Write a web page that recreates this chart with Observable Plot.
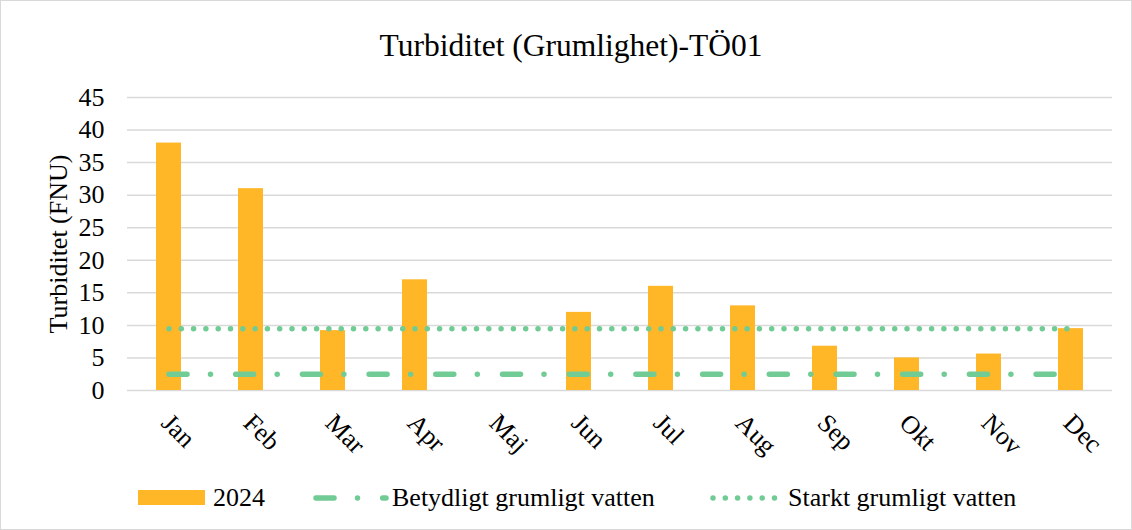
<!DOCTYPE html>
<html><head><meta charset="utf-8">
<script src="https://cdn.jsdelivr.net/npm/d3@7"></script>
<script src="https://cdn.jsdelivr.net/npm/@observablehq/plot@0.6"></script>
<style>
body{margin:0;background:#fff;}
#wrap{position:relative;width:1132px;height:530px;box-sizing:border-box;border:1px solid #d9d9d9;font-family:"Liberation Serif","Times New Roman",serif;color:#000;overflow:hidden;background:#fff}
#title{position:absolute;left:0;width:1140px;top:29px;text-align:center;font-size:31.5px;line-height:31px;white-space:nowrap}
#chart{position:absolute;left:0;top:80px}
#chart svg{overflow:visible}
.leg{position:absolute;top:480px;height:34px;font-size:26px;line-height:34px;white-space:nowrap}
.sw{position:absolute;top:480px}
</style></head>
<body>
<div id="wrap">
  <div id="title"></div>
  <div id="chart"></div>
  <div id="legend"></div>
</div>
<script>
const titleText = "Turbiditet (Grumlighet)-TÖ01";
const yLabel = "Turbiditet (FNU)";
const months = ["Jan","Feb","Mar","Apr","Maj","Jun","Jul","Aug","Sep","Okt","Nov","Dec"];
const values2024 = [38, 31, 9.2, 17, null, 12, 16, 13, 6.8, 5, 5.6, 9.5];
const betydligt = [2.5, 2.5, 2.5, 2.5, 2.5, 2.5, 2.5, 2.5, 2.5, 2.5, 2.5, 2.5];
const starkt = [9.5, 9.5, 9.5, 9.5, 9.5, 9.5, 9.5, 9.5, 9.5, 9.5, 9.5, 9.5];
const yTicks = [0, 5, 10, 15, 20, 25, 30, 35, 40, 45];
const seriesNames = ["2024", "Betydligt grumligt vatten", "Starkt grumligt vatten"];

const barColor = "#FFB627";
const lineColor = "#71CB95";
const dashDot = "18,23.5,0,25.2";
const dotted = "0,12.3";

const rows = months.map((m, i) => ({month: m, v: values2024[i], b: betydligt[i], s: starkt[i]}));

document.getElementById("title").textContent = titleText;

const plot = Plot.plot({
  width: 1130,
  height: 400,
  marginTop: 16,
  marginBottom: 91,
  marginLeft: 126,
  marginRight: 19,
  style: {fontFamily: "Liberation Serif, Times New Roman, serif", fontSize: "26px", color: "#000", background: "transparent", overflow: "visible"},
  x: {type: "band", domain: months, paddingInner: 0.695, paddingOuter: 0.3475, axis: null},
  y: {domain: [0, 45], axis: null},
  marks: [
    Plot.ruleY(yTicks, {stroke: "#d9d9d9", strokeWidth: 1.5}),
    Plot.barY(rows.filter(d => d.v != null), {x: "month", y: "v", fill: barColor}),
    Plot.lineY(rows, {x: "month", y: "b", stroke: lineColor, strokeWidth: 5.5, strokeDasharray: dashDot, strokeLinecap: "round"}),
    Plot.lineY(rows, {x: "month", y: "s", stroke: lineColor, strokeWidth: 5.5, strokeDasharray: dotted, strokeLinecap: "round"}),
    Plot.axisY({ticks: yTicks, tickSize: 0, tickPadding: 23, label: null, fontSize: 26}),
    Plot.text(months, {x: d => d, y: () => 0, dx: -3, dy: 28, rotate: 45, textAnchor: "start", lineAnchor: "middle", fontSize: 26}),
    Plot.text([yLabel], {frameAnchor: "left", dx: -69, rotate: -90, textAnchor: "middle", lineAnchor: "middle", fontSize: 26})
  ]
});
document.getElementById("chart").appendChild(plot);

// Legend
const leg = document.getElementById("legend");
function addSwatch(left, width, draw) {
  const ns = "http://www.w3.org/2000/svg";
  const svg = document.createElementNS(ns, "svg");
  svg.setAttribute("width", width);
  svg.setAttribute("height", 34);
  svg.setAttribute("class", "sw");
  svg.style.left = left + "px";
  svg.innerHTML = draw;
  leg.appendChild(svg);
}
function addText(left, txt) {
  const d = document.createElement("div");
  d.className = "leg";
  d.style.left = left + "px";
  d.textContent = txt;
  leg.appendChild(d);
}
addSwatch(137, 68, `<rect x="0" y="9" width="67" height="15" fill="${barColor}"/>`);
addText(212, seriesNames[0]);
addSwatch(308, 84, `<line x1="7" x2="77" y1="17" y2="17" stroke="${lineColor}" stroke-width="5.5" stroke-linecap="round" stroke-dasharray="${dashDot}"/>`);
addText(391, seriesNames[1]);
addSwatch(705, 76, `<line x1="7" x2="70" y1="17" y2="17" stroke="${lineColor}" stroke-width="5.5" stroke-linecap="round" stroke-dasharray="${dotted}"/>`);
addText(787, seriesNames[2]);
</script>
</body></html>
